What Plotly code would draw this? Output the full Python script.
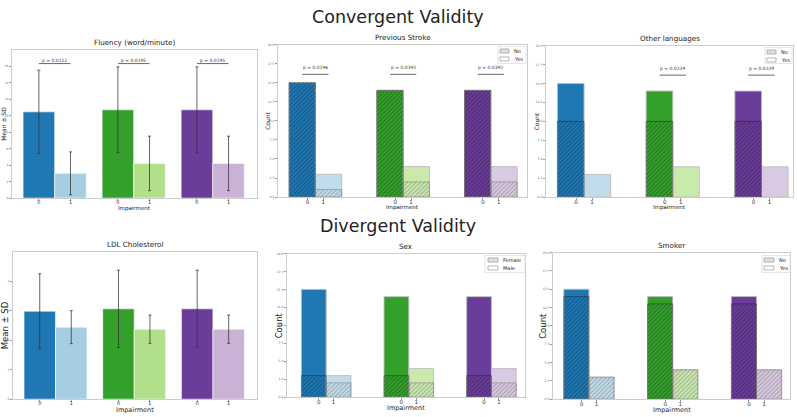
import plotly.graph_objects as go

W, H = 797, 417
FONT = "DejaVu Sans"

# ---------------- data ----------------
impairment_levels = ["0", "1"]
dark_colors = ["#1f78b4", "#33a02c", "#6a3d9a"]
light_colors = ["#a6cee3", "#b2df8a", "#cab2d6"]
light_colors_alpha = ["rgba(166,206,227,0.7)", "rgba(178,223,138,0.7)", "rgba(202,178,214,0.7)"]

fluency_mean = [10.45, 3.0, 10.7, 4.2, 10.7, 4.2]
fluency_sd = [5.05, 2.6, 5.2, 3.3, 5.2, 3.3]
fluency_p = ["p = 0.0112", "p = 0.0195", "p = 0.0195"]

ldl_mean = [2.98, 2.44, 3.06, 2.37, 3.06, 2.37]
ldl_sd = [1.27, 0.56, 1.31, 0.48, 1.31, 0.48]

stroke_no = [15, 1, 14, 2, 14, 2]
stroke_yes = [0, 2, 0, 2, 0, 2]
stroke_p = ["p = 0.0196", "p = 0.0392", "p = 0.0392"]

lang_no = [10, 0, 10, 0, 10, 0]
lang_yes = [5, 3, 4, 4, 4, 4]
lang_p = [None, "p = 0.0229", "p = 0.0229"]

sex_female = [3, 2, 3, 2, 3, 2]
sex_male = [12, 1, 11, 2, 11, 2]

smoker_no = [14, 3, 13, 4, 13, 4]
smoker_yes = [1, 0, 1, 0, 1, 0]

# ---------------- layout helpers ----------------
def px(x):
    return x / W

def py(y):
    return 1 - y / H

# panel boxes in pixels: left, right, top, bottom
boxes = {
    1: (12, 257, 48, 198),
    2: (278, 527, 43, 197),
    3: (546, 793, 44, 197),
    4: (13, 257, 252, 401),
    5: (287, 525, 254, 399),
    6: (553, 790, 253, 401),
}

fig = go.Figure()
layout = dict(
    width=W, height=H,
    margin=dict(l=0, r=0, t=0, b=0),
    paper_bgcolor="white", plot_bgcolor="white",
    barmode="overlay",
    font=dict(family=FONT, color="#222"),
    showlegend=False,
)
annotations = []
shapes = []

mean_pos = [0, 1, 2.5, 3.5, 5, 6]
count_pos = [g * 10 / 3 + k for g in range(3) for k in (0, 1)]
count_ticks = [g * 10 / 3 + t for g in range(3) for t in (0.2, 0.8)]

def ax_names(i):
    return ("x" if i == 1 else f"x{i}"), ("y" if i == 1 else f"y{i}")

def setup_axes(i, xrange, yrange, tickvals, ytick, xtickfont):
    l, r, t, b = boxes[i]
    xk = "xaxis" if i == 1 else f"xaxis{i}"
    yk = "yaxis" if i == 1 else f"yaxis{i}"
    xa, ya = ax_names(i)
    common = dict(showline=True, mirror=True, linecolor="#cccccc", linewidth=1,
                  showgrid=False, zeroline=False, ticks="outside", ticklen=2,
                  tickcolor="#999999", tickwidth=0.6)
    layout[xk] = dict(domain=[px(l), px(r)], anchor=ya, range=xrange,
                      tickmode="array", tickvals=tickvals,
                      ticktext=impairment_levels * 3, ticklabelstandoff=-3,
                      tickfont=dict(size=xtickfont, color="#333"), **common)
    layout[yk] = dict(domain=[py(b), py(t)], anchor=xa, range=yrange,
                      tickmode="array", tickvals=ytick,
                      ticktext=[(f"{v:.1f}" if isinstance(v, float) else str(v)) for v in ytick],
                      tickfont=dict(size=3, color="#666"), **common)

def text(x, y, s, size, xanchor="center", yanchor="middle", **kw):
    d = dict(x=px(x), y=py(y), xref="paper", yref="paper", text=s, showarrow=False,
             xanchor=xanchor, yanchor=yanchor,
             font=dict(size=size, family=FONT, color="#222"))
    d.update(kw)
    annotations.append(d)

def bar_colors(dark, light):
    out = []
    for g in range(3):
        out += [dark[g], light[g]]
    return out

# ---------------- mean ± SD panels ----------------
def mean_panel(i, mean, sd, yrange, yticks, pvals=None, pline=None):
    xa, ya = ax_names(i)
    fig.add_trace(go.Bar(
        x=mean_pos, y=mean, width=1, xaxis=xa, yaxis=ya, showlegend=False,
        marker=dict(color=bar_colors(dark_colors, light_colors),
                    line=dict(color="rgba(255,255,255,0.6)", width=1)),
        error_y=dict(type="data", array=sd, visible=True, color="rgba(50,50,50,0.75)",
                     thickness=1, width=1.5),
    ))
    setup_axes(i, [-0.85, 6.9], yrange, mean_pos, yticks, 5)
    if pvals:
        for g, p in enumerate(pvals):
            if p is None:
                continue
            x0, x1 = mean_pos[2 * g], mean_pos[2 * g + 1]
            shapes.append(dict(type="line", xref=xa, yref=ya, x0=x0, x1=x1, y0=pline, y1=pline,
                               line=dict(color="#444", width=0.8)))
            annotations.append(dict(x=(x0 + x1) / 2, y=pline, xref=xa, yref=ya, text=p,
                                    showarrow=False, xanchor="center", yanchor="bottom", yshift=-1,
                                    font=dict(size=4.5, family=FONT, color="#333")))

mean_panel(1, fluency_mean, fluency_sd, [0, 18], [0, 2, 4, 6, 8, 10, 12, 14, 16], fluency_p, 16.3)
mean_panel(4, ldl_mean, ldl_sd, [0, 5], [0, 1, 2, 3, 4])

# ---------------- manual legends (small boxes like the reference) ----------------
def legend_box(l, t, r, b, patch_l, patch_w, text_x, rows, names):
    shapes.append(dict(type="rect", xref="paper", yref="paper",
                       x0=px(l), x1=px(r), y0=py(b), y1=py(t),
                       fillcolor="white", line=dict(color="#dddddd", width=0.8), layer="above"))
    for k, (ry, name) in enumerate(zip(rows, names)):
        x0, x1, y0, y1 = patch_l, patch_l + patch_w, ry - 2, ry + 2
        shapes.append(dict(type="rect", xref="paper", yref="paper",
                           x0=px(x0), x1=px(x1), y0=py(y1), y1=py(y0),
                           fillcolor="white", line=dict(color="#999999", width=0.7), layer="above"))
        if k == 0:
            segs = []
            xs = x0 - 4
            while xs < x1:
                a0, a1 = xs, xs + 4
                sx0, sy0, sx1, sy1 = a0, y1, a1, y0
                if sx0 < x0:
                    sy0 = y1 - (x0 - sx0)
                    sx0 = x0
                if sx1 > x1:
                    sy1 = y0 + (sx1 - x1)
                    sx1 = x1
                segs.append(f"M{px(sx0)},{py(sy0)}L{px(sx1)},{py(sy1)}")
                xs += 1.6
            shapes.append(dict(type="path", xref="paper", yref="paper", path="".join(segs),
                               line=dict(color="#999999", width=0.5), layer="above"))
        text(text_x, ry, name, 5, xanchor="left")

# ---------------- count panels ----------------
def count_panel(i, hatched, plain, names, xrange, pvals, leg):
    xa, ya = ax_names(i)
    totals = [a + b for a, b in zip(hatched, plain)]
    cols = bar_colors(dark_colors, light_colors_alpha)
    hatch_cols = ["rgba(0,0,0,0.32)", "rgba(110,110,110,0.55)"] * 3
    edge_cols = ["rgba(20,20,20,0.5)", "rgba(120,120,120,0.6)"] * 3
    fig.add_trace(go.Bar(
        x=count_pos, y=totals, width=1, xaxis=xa, yaxis=ya, showlegend=False,
        marker=dict(color=cols, line=dict(color="rgba(190,190,190,0.9)", width=1)),
    ))
    fig.add_trace(go.Bar(
        x=count_pos, y=[v if v > 0 else None for v in hatched], width=1,
        xaxis=xa, yaxis=ya, showlegend=False,
        marker=dict(color=hatch_cols, line=dict(color=edge_cols, width=0.8),
                    pattern=dict(shape="/", fillmode="replace", size=3, solidity=0.3)),
    ))
    setup_axes(i, xrange, [0, 20], count_ticks,
               [0.0, 2.5, 5.0, 7.5, 10.0, 12.5, 15.0, 17.5, 20.0], 5.5)
    legend_box(*leg, names)
    if pvals:
        for g, p in enumerate(pvals):
            if p is None:
                continue
            x0, x1 = count_pos[2 * g], count_pos[2 * g + 1]
            shapes.append(dict(type="line", xref=xa, yref=ya, x0=x0, x1=x1, y0=16.1, y1=16.1,
                               line=dict(color="#444", width=0.8)))
            annotations.append(dict(x=(x0 + x1) / 2, y=16.1, xref=xa, yref=ya, text=p,
                                    showarrow=False, xanchor="center", yanchor="bottom", yshift=2,
                                    font=dict(size=4.5, family=FONT, color="#333")))

count_panel(2, stroke_no, stroke_yes, ["No", "Yes"], [-0.92, 8.54], stroke_p,
            (498, 45, 526, 62, 500, 9, 512, [49.5, 57.5]))
count_panel(3, lang_no, lang_yes, ["No", "Yes"], [-0.93, 8.35], lang_p,
            (765, 46, 792, 62, 767, 9, 779, [50.5, 58.5]))
count_panel(5, sex_female, sex_male, ["Female", "Male"], [-1.08, 8.52], None,
            (485, 256, 525, 273, 488, 10, 501, [260.5, 268.5]))
count_panel(6, smoker_no, smoker_yes, ["No", "Yes"], [-0.93, 8.5], None,
            (762, 256, 790, 273, 764, 10, 777, [260.5, 268.5]))

# ---------------- titles & labels ----------------
text(398, 15, "Convergent Validity", 17.5)
text(398, 226, "Divergent Validity", 17.5)

panel_titles = {1: "Fluency (word/minute)", 2: "Previous Stroke", 3: "Other languages",
                4: "LDL Cholesterol", 5: "Sex", 6: "Smoker"}
for i, t_ in panel_titles.items():
    l, r, t, b = boxes[i]
    text((l + r) / 2, t - 0.5, t_, 7.2, yanchor="bottom")

xlabel_y = {1: 208.5, 2: 207.5, 3: 207.5, 4: 411.5, 5: 410, 6: 411.5}
xlabel_size = {1: 5.5, 2: 5.5, 3: 5.5, 4: 6.5, 5: 6.5, 6: 6.5}
for i in range(1, 7):
    l, r, t, b = boxes[i]
    text((l + r) / 2, xlabel_y[i], "Impairment", xlabel_size[i])

ylabels = {1: ("Mean ± SD", 4, 6), 2: ("Count", 268, 6), 3: ("Count", 536, 6),
           4: ("Mean ± SD", 5, 8.5), 5: ("Count", 279, 8.5), 6: ("Count", 543, 8.5)}
for i, (s, x, size) in ylabels.items():
    l, r, t, b = boxes[i]
    text(x, (t + b) / 2, s, size, textangle=-90)

layout["annotations"] = annotations
layout["shapes"] = shapes
fig.update_layout(**layout)

fig.write_html("out.html", config={"displayModeBar": False},
               post_script="document.body.style.margin='0px';")
